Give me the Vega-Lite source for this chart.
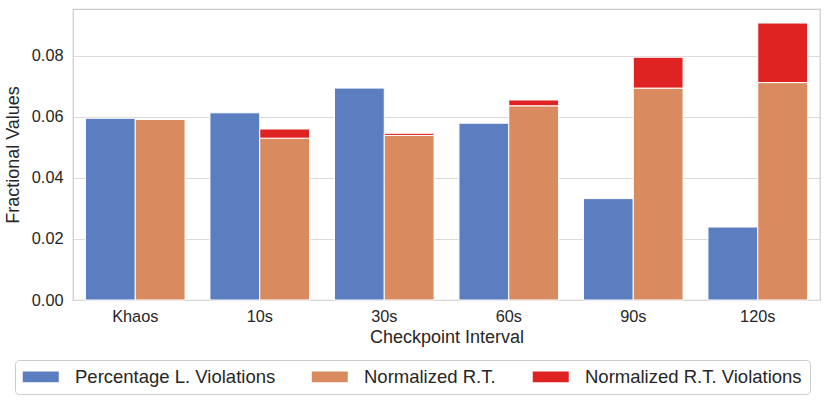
{
  "$schema": "https://vega.github.io/schema/vega-lite/v6.json",
  "autosize": {"type": "none"},
  "width": 747,
  "height": 291,
  "padding": {"left": 73, "top": 9, "right": 10, "bottom": 103},
  "background": "white",
  "data": {
    "values": [
      {"interval": "Khaos", "group": "L", "series": "Percentage L. Violations", "ord": 0, "value": 0.0595},
      {"interval": "Khaos", "group": "RT", "series": "Normalized R.T.", "ord": 1, "value": 0.0592},
      {"interval": "Khaos", "group": "RT", "series": "Normalized R.T. Violations", "ord": 2, "value": 0.0},
      {"interval": "10s", "group": "L", "series": "Percentage L. Violations", "ord": 0, "value": 0.0613},
      {"interval": "10s", "group": "RT", "series": "Normalized R.T.", "ord": 1, "value": 0.0530},
      {"interval": "10s", "group": "RT", "series": "Normalized R.T. Violations", "ord": 2, "value": 0.0030},
      {"interval": "30s", "group": "L", "series": "Percentage L. Violations", "ord": 0, "value": 0.0694},
      {"interval": "30s", "group": "RT", "series": "Normalized R.T.", "ord": 1, "value": 0.0539},
      {"interval": "30s", "group": "RT", "series": "Normalized R.T. Violations", "ord": 2, "value": 0.0007},
      {"interval": "60s", "group": "L", "series": "Percentage L. Violations", "ord": 0, "value": 0.0579},
      {"interval": "60s", "group": "RT", "series": "Normalized R.T.", "ord": 1, "value": 0.0636},
      {"interval": "60s", "group": "RT", "series": "Normalized R.T. Violations", "ord": 2, "value": 0.0019},
      {"interval": "90s", "group": "L", "series": "Percentage L. Violations", "ord": 0, "value": 0.0332},
      {"interval": "90s", "group": "RT", "series": "Normalized R.T.", "ord": 1, "value": 0.0694},
      {"interval": "90s", "group": "RT", "series": "Normalized R.T. Violations", "ord": 2, "value": 0.0101},
      {"interval": "120s", "group": "L", "series": "Percentage L. Violations", "ord": 0, "value": 0.0239},
      {"interval": "120s", "group": "RT", "series": "Normalized R.T.", "ord": 1, "value": 0.0712},
      {"interval": "120s", "group": "RT", "series": "Normalized R.T. Violations", "ord": 2, "value": 0.0195}
    ]
  },
  "mark": {"type": "bar", "stroke": "white", "strokeWidth": 1},
  "encoding": {
    "x": {
      "field": "interval",
      "type": "nominal",
      "sort": ["Khaos", "10s", "30s", "60s", "90s", "120s"],
      "scale": {"paddingInner": 0.2, "paddingOuter": 0.1},
      "axis": {
        "title": "Checkpoint Interval",
        "labelAngle": 0,
        "ticks": false,
        "domain": false,
        "labelPadding": 8,
        "titlePadding": 4
      }
    },
    "xOffset": {
      "field": "group",
      "type": "nominal",
      "sort": ["L", "RT"],
      "scale": {"paddingInner": 0, "paddingOuter": 0}
    },
    "y": {
      "field": "value",
      "type": "quantitative",
      "stack": "zero",
      "scale": {"domain": [0, 0.0953], "nice": false, "zero": true},
      "axis": {
        "title": "Fractional Values",
        "values": [0, 0.02, 0.04, 0.06, 0.08],
        "format": ".2f",
        "ticks": false,
        "domain": false,
        "grid": true,
        "labelPadding": 10,
        "titlePadding": 9
      }
    },
    "color": {
      "field": "series",
      "type": "nominal",
      "scale": {
        "domain": ["Percentage L. Violations", "Normalized R.T.", "Normalized R.T. Violations"],
        "range": ["#5b7ec1", "#d98b5f", "#df2222"]
      },
      "legend": {
        "title": null,
        "orient": "none",
        "legendX": -58,
        "legendY": 351,
        "direction": "horizontal",
        "columns": 3,
        "columnPadding": 36,
        "labelOffset": 34,
        "labelFontSize": 18.5,
        "labelLimit": 400,
        "labelColor": "#262626",
        "labelFont": "Liberation Sans",
        "symbolType": "M-1,-0.61H3V0.61H-1Z",
        "symbolSize": 324,
        "symbolStrokeWidth": 0,
        "symbolOpacity": 1,
        "strokeColor": "#cccccc",
        "cornerRadius": 4,
        "padding": 7.5
      }
    },
    "order": {"field": "ord", "type": "quantitative"}
  },
  "config": {
    "font": "Liberation Sans",
    "view": {"stroke": "#cccccc", "strokeWidth": 1.25},
    "axis": {
      "labelFont": "Liberation Sans",
      "labelFontSize": 16.3,
      "labelColor": "#262626",
      "titleFont": "Liberation Sans",
      "titleFontSize": 18,
      "titleFontWeight": "normal",
      "titleColor": "#262626",
      "gridColor": "#dadada",
      "gridWidth": 1.2
    }
  }
}
